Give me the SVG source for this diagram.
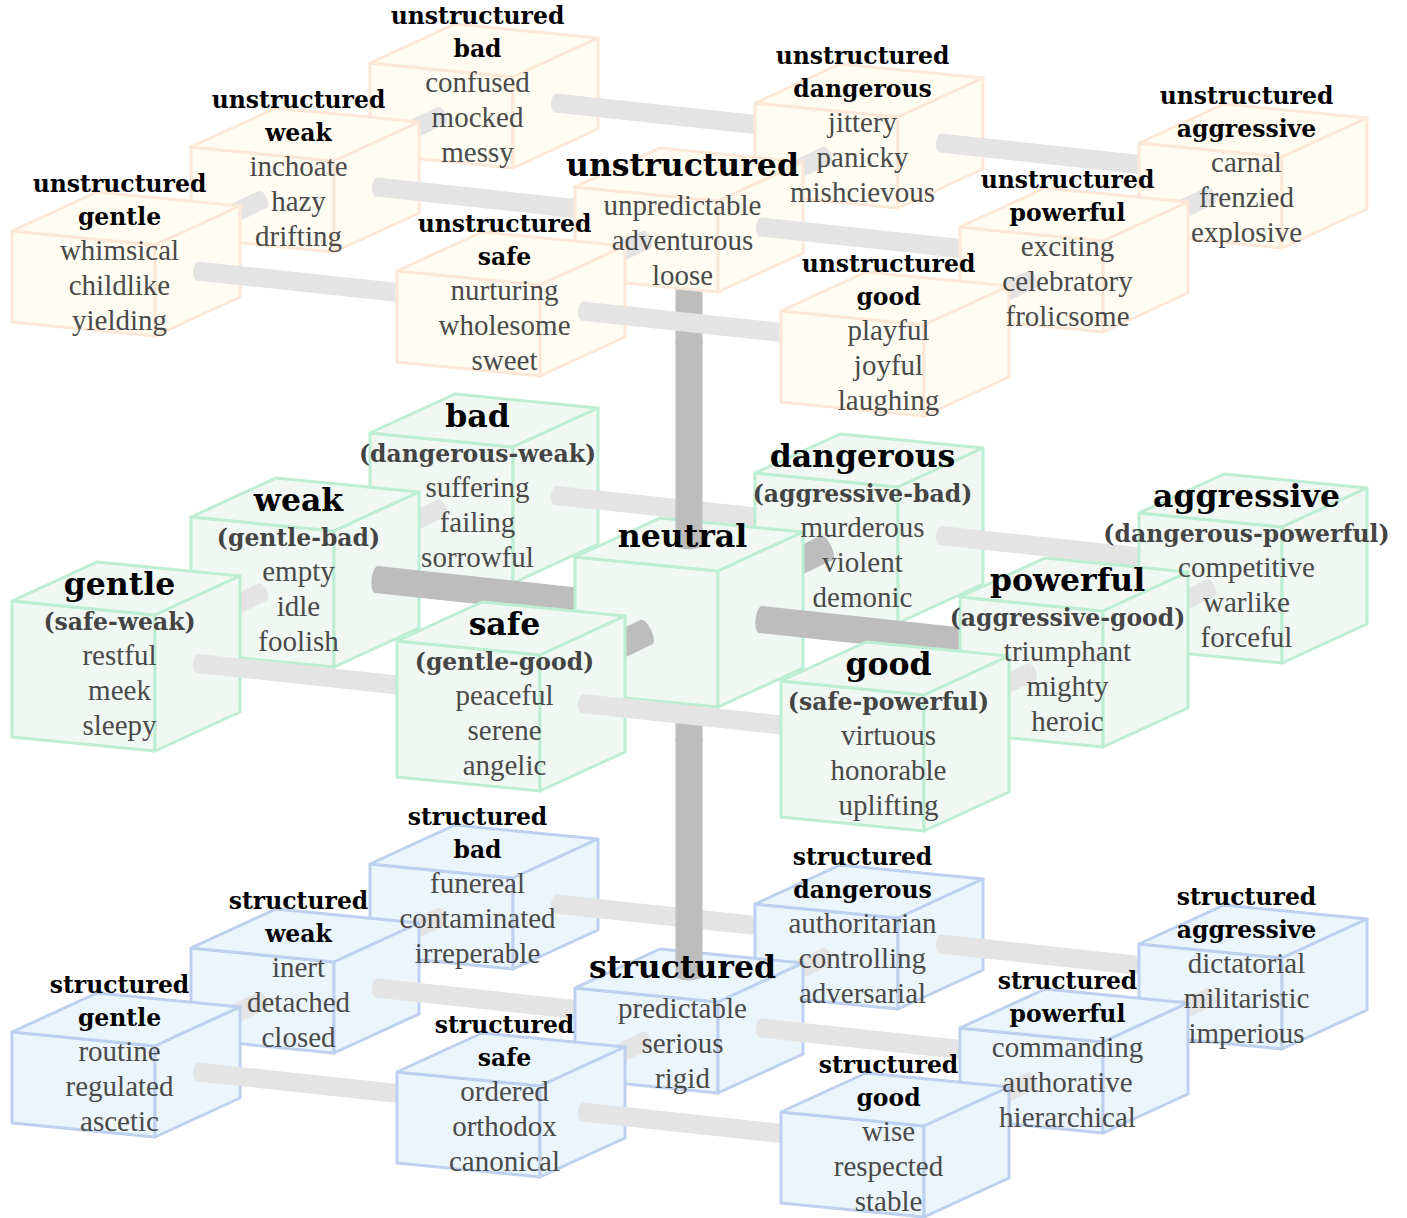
<svg xmlns="http://www.w3.org/2000/svg" width="1407" height="1218" viewBox="0 0 1407 1218">
<style>
.cn{fill:#f1f8f3;stroke:#bdeed3;stroke-width:3;stroke-linejoin:round}
.cu{fill:#fffdf2;stroke:#fde8d8;stroke-width:3;stroke-linejoin:round}
.cs{fill:#ebf6fc;stroke:#bdd0ef;stroke-width:3;stroke-linejoin:round}
.bl{stroke:#e4e4e4;stroke-width:19;fill:none}
.bd{stroke:#bdbdbd;stroke-width:27;fill:none}
.t1{font-family:"DejaVu Serif",serif;font-weight:bold;font-size:31.5px;fill:#000;text-anchor:middle}
.t2{font-family:"DejaVu Serif",serif;font-weight:bold;font-size:23.5px;fill:#000;text-anchor:middle}
.sb{font-family:"DejaVu Serif",serif;font-weight:bold;font-size:23.5px;fill:#444;text-anchor:middle}
.w{font-family:"Liberation Serif",serif;font-size:29px;fill:#4a4a4a;text-anchor:middle}
</style>
<defs>
<g id="cubeS"><path d="M0,0 L143,14 L143,105 L0,91 Z"/><path d="M0,0 L85,-39 L228,-25 L143,14 Z"/><path d="M143,14 L228,-25 L228,66 L143,105 Z"/></g>
<g id="cubeL"><path d="M0,0 L143,14 L143,150 L0,136 Z"/><path d="M0,0 L85,-39 L228,-25 L143,14 Z"/><path d="M143,14 L228,-25 L228,111 L143,150 Z"/></g>
<marker id="mL" markerUnits="userSpaceOnUse" markerWidth="30" markerHeight="30" refX="15" refY="15" orient="auto" overflow="visible"><ellipse cx="15" cy="15" rx="4.5" ry="9.5" fill="#e4e4e4"/></marker>
<marker id="mD" markerUnits="userSpaceOnUse" markerWidth="30" markerHeight="30" refX="15" refY="15" orient="auto" overflow="visible"><ellipse cx="15" cy="15" rx="5" ry="13.5" fill="#bdbdbd"/></marker>
</defs>

<g id="scene">
<!-- ===== UNSTRUCTURED LAYER ===== -->
<g id="u-bad"><use href="#cubeS" class="cu" x="370" y="63"/></g>
<g class="edges"><line class="bl" x1="555.5" y1="103" x2="797.5" y2="129" marker-start="url(#mL)"/></g>
<g id="u-dangerous"><use href="#cubeS" class="cu" x="755" y="103"/></g>
<g class="edges"><line class="bl" x1="940.5" y1="143" x2="1181.5" y2="169" marker-start="url(#mL)"/></g>
<g id="u-aggressive"><use href="#cubeS" class="cu" x="1139" y="143"/></g>
<g class="edges">
<line class="bl" x1="347.5" y1="160.5" x2="441.5" y2="115.5" marker-end="url(#mL)"/>
<line class="bl" x1="731.5" y1="200.5" x2="826.5" y2="155.5" marker-end="url(#mL)"/>
<line class="bl" x1="1116.5" y1="240.5" x2="1210.5" y2="195.5" marker-end="url(#mL)"/>
</g>
<g id="u-weak"><use href="#cubeS" class="cu" x="191" y="147"/></g>
<g class="edges"><line class="bl" x1="376.5" y1="187" x2="617.5" y2="213" marker-start="url(#mL)"/>
<line class="bd" x1="689" y1="280" x2="689" y2="345"/></g>
<g id="u-center"><use href="#cubeS" class="cu" x="575" y="187"/></g>
<g class="edges"><line class="bl" x1="760.5" y1="227" x2="1002.5" y2="253" marker-start="url(#mL)"/></g>
<g id="u-powerful"><use href="#cubeS" class="cu" x="960" y="227"/></g>
<g class="edges">
<line class="bl" x1="168.5" y1="244.5" x2="262.5" y2="199.5" marker-end="url(#mL)"/>
<line class="bl" x1="553.5" y1="284.5" x2="646.5" y2="239.5" marker-end="url(#mL)"/>
<line class="bl" x1="937.5" y1="324.5" x2="1031.5" y2="279.5" marker-end="url(#mL)"/>
</g>
<g id="u-gentle"><use href="#cubeS" class="cu" x="12" y="231"/></g>
<g class="edges"><line class="bl" x1="197.5" y1="271" x2="439.5" y2="297" marker-start="url(#mL)"/></g>
<g id="u-safe"><use href="#cubeS" class="cu" x="397" y="271"/></g>
<g class="edges"><line class="bl" x1="582.5" y1="311" x2="823.5" y2="337" marker-start="url(#mL)"/></g>
<g id="u-good"><use href="#cubeS" class="cu" x="781" y="311"/></g>

<!-- ===== NEUTRAL LAYER ===== -->
<g id="n-bad"><use href="#cubeL" class="cn" x="370" y="433"/></g>
<g class="edges"><line class="bl" x1="555.5" y1="495.5" x2="797.5" y2="521.5" marker-start="url(#mL)"/></g>
<g id="n-dangerous"><use href="#cubeL" class="cn" x="755" y="473"/></g>
<g class="edges"><line class="bl" x1="940.5" y1="535.5" x2="1181.5" y2="561.5" marker-start="url(#mL)"/></g>
<g id="n-aggressive"><use href="#cubeL" class="cn" x="1139" y="513"/></g>
<g class="edges">
<line class="bl" x1="347.5" y1="553" x2="441.5" y2="508" marker-end="url(#mL)"/>
<line class="bd" x1="731.5" y1="593" x2="826.5" y2="548" marker-end="url(#mD)"/>
<line class="bl" x1="1116.5" y1="633" x2="1210.5" y2="588" marker-end="url(#mL)"/>
</g>
<g id="n-weak"><use href="#cubeL" class="cn" x="191" y="517"/></g>
<g class="edges"><line class="bd" x1="376.5" y1="579.5" x2="617.5" y2="605.5" marker-start="url(#mD)"/>
<line class="bd" x1="689" y1="690" x2="689" y2="742"/></g>
<g id="n-center"><use href="#cubeL" class="cn" x="575" y="557"/></g>
<g class="edges"><line class="bd" x1="689" y1="340" x2="689" y2="544.5" marker-end="url(#mD)"/>
<line class="bd" x1="760.5" y1="619.5" x2="1002.5" y2="645.5" marker-start="url(#mD)"/></g>
<g id="n-powerful"><use href="#cubeL" class="cn" x="960" y="597"/></g>
<g class="edges">
<line class="bl" x1="168.5" y1="637" x2="262.5" y2="592" marker-end="url(#mL)"/>
<line class="bd" x1="553.5" y1="677" x2="646.5" y2="632" marker-end="url(#mD)"/>
<line class="bl" x1="937.5" y1="717" x2="1031.5" y2="672" marker-end="url(#mL)"/>
</g>
<g id="n-gentle"><use href="#cubeL" class="cn" x="12" y="601"/></g>
<g class="edges"><line class="bl" x1="197.5" y1="663.5" x2="439.5" y2="689.5" marker-start="url(#mL)"/></g>
<g id="n-safe"><use href="#cubeL" class="cn" x="397" y="641"/></g>
<g class="edges"><line class="bl" x1="582.5" y1="703.5" x2="823.5" y2="729.5" marker-start="url(#mL)"/></g>
<g id="n-good"><use href="#cubeL" class="cn" x="781" y="681"/></g>

<!-- ===== STRUCTURED LAYER ===== -->
<g id="s-bad"><use href="#cubeS" class="cs" x="370" y="864"/></g>
<g class="edges"><line class="bl" x1="555.5" y1="904" x2="797.5" y2="930" marker-start="url(#mL)"/></g>
<g id="s-dangerous"><use href="#cubeS" class="cs" x="755" y="904"/></g>
<g class="edges"><line class="bl" x1="940.5" y1="944" x2="1181.5" y2="970" marker-start="url(#mL)"/></g>
<g id="s-aggressive"><use href="#cubeS" class="cs" x="1139" y="944"/></g>
<g class="edges">
<line class="bl" x1="347.5" y1="961.5" x2="441.5" y2="916.5" marker-end="url(#mL)"/>
<line class="bl" x1="731.5" y1="1001.5" x2="826.5" y2="956.5" marker-end="url(#mL)"/>
<line class="bl" x1="1116.5" y1="1041.5" x2="1210.5" y2="996.5" marker-end="url(#mL)"/>
</g>
<g id="s-weak"><use href="#cubeS" class="cs" x="191" y="948"/></g>
<g class="edges"><line class="bl" x1="376.5" y1="988" x2="617.5" y2="1014" marker-start="url(#mL)"/></g>
<g id="s-center"><use href="#cubeS" class="cs" x="575" y="988"/></g>
<g class="edges"><line class="bd" x1="689" y1="738" x2="689" y2="975.5" marker-end="url(#mD)"/>
<line class="bl" x1="760.5" y1="1028" x2="1002.5" y2="1054" marker-start="url(#mL)"/></g>
<g id="s-powerful"><use href="#cubeS" class="cs" x="960" y="1028"/></g>
<g class="edges">
<line class="bl" x1="168.5" y1="1045.5" x2="262.5" y2="1000.5" marker-end="url(#mL)"/>
<line class="bl" x1="553.5" y1="1085.5" x2="646.5" y2="1040.5" marker-end="url(#mL)"/>
<line class="bl" x1="937.5" y1="1125.5" x2="1031.5" y2="1080.5" marker-end="url(#mL)"/>
</g>
<g id="s-gentle"><use href="#cubeS" class="cs" x="12" y="1032"/></g>
<g class="edges"><line class="bl" x1="197.5" y1="1072" x2="439.5" y2="1098" marker-start="url(#mL)"/></g>
<g id="s-safe"><use href="#cubeS" class="cs" x="397" y="1072"/></g>
<g class="edges"><line class="bl" x1="582.5" y1="1112" x2="823.5" y2="1138" marker-start="url(#mL)"/></g>
<g id="s-good"><use href="#cubeS" class="cs" x="781" y="1112"/></g>
</g>

<g id="labels">
<g id="u-bad-label"><text class="t2" x="477.5" y="24">unstructured</text><text class="t2" x="477.5" y="57">bad</text>
<text class="w" x="477.5" y="92">confused</text><text class="w" x="477.5" y="127">mocked</text><text class="w" x="477.5" y="162">messy</text></g>
<g id="u-dangerous-label"><text class="t2" x="862.5" y="64">unstructured</text><text class="t2" x="862.5" y="97">dangerous</text>
<text class="w" x="862.5" y="132">jittery</text><text class="w" x="862.5" y="167">panicky</text><text class="w" x="862.5" y="202">mishcievous</text></g>
<g id="u-aggressive-label"><text class="t2" x="1246.5" y="104">unstructured</text><text class="t2" x="1246.5" y="137">aggressive</text>
<text class="w" x="1246.5" y="172">carnal</text><text class="w" x="1246.5" y="207">frenzied</text><text class="w" x="1246.5" y="242">explosive</text></g>
<g id="u-weak-label"><text class="t2" x="298.5" y="108">unstructured</text><text class="t2" x="298.5" y="141">weak</text>
<text class="w" x="298.5" y="176">inchoate</text><text class="w" x="298.5" y="211">hazy</text><text class="w" x="298.5" y="246">drifting</text></g>
<g id="u-center-label"><text class="t1" x="682.5" y="176">unstructured</text>
<text class="w" x="682.5" y="215">unpredictable</text><text class="w" x="682.5" y="250">adventurous</text><text class="w" x="682.5" y="285">loose</text></g>
<g id="u-powerful-label"><text class="t2" x="1067.5" y="188">unstructured</text><text class="t2" x="1067.5" y="221">powerful</text>
<text class="w" x="1067.5" y="256">exciting</text><text class="w" x="1067.5" y="291">celebratory</text><text class="w" x="1067.5" y="326">frolicsome</text></g>
<g id="u-gentle-label"><text class="t2" x="119.5" y="192">unstructured</text><text class="t2" x="119.5" y="225">gentle</text>
<text class="w" x="119.5" y="260">whimsical</text><text class="w" x="119.5" y="295">childlike</text><text class="w" x="119.5" y="330">yielding</text></g>
<g id="u-safe-label"><text class="t2" x="504.5" y="232">unstructured</text><text class="t2" x="504.5" y="265">safe</text>
<text class="w" x="504.5" y="300">nurturing</text><text class="w" x="504.5" y="335">wholesome</text><text class="w" x="504.5" y="370">sweet</text></g>
<g id="u-good-label"><text class="t2" x="888.5" y="272">unstructured</text><text class="t2" x="888.5" y="305">good</text>
<text class="w" x="888.5" y="340">playful</text><text class="w" x="888.5" y="375">joyful</text><text class="w" x="888.5" y="410">laughing</text></g>

<g id="n-bad-label"><text class="t1" x="477.5" y="427">bad</text><text class="sb" x="477.5" y="462">(dangerous-weak)</text>
<text class="w" x="477.5" y="497">suffering</text><text class="w" x="477.5" y="532">failing</text><text class="w" x="477.5" y="567">sorrowful</text></g>
<g id="n-dangerous-label"><text class="t1" x="862.5" y="467">dangerous</text><text class="sb" x="862.5" y="502">(aggressive-bad)</text>
<text class="w" x="862.5" y="537">murderous</text><text class="w" x="862.5" y="572">violent</text><text class="w" x="862.5" y="607">demonic</text></g>
<g id="n-aggressive-label"><text class="t1" x="1246.5" y="507">aggressive</text><text class="sb" x="1246.5" y="542">(dangerous-powerful)</text>
<text class="w" x="1246.5" y="577">competitive</text><text class="w" x="1246.5" y="612">warlike</text><text class="w" x="1246.5" y="647">forceful</text></g>
<g id="n-weak-label"><text class="t1" x="298.5" y="511">weak</text><text class="sb" x="298.5" y="546">(gentle-bad)</text>
<text class="w" x="298.5" y="581">empty</text><text class="w" x="298.5" y="616">idle</text><text class="w" x="298.5" y="651">foolish</text></g>
<g id="n-center-label"><text class="t1" x="682.5" y="547">neutral</text></g>
<g id="n-powerful-label"><text class="t1" x="1067.5" y="591">powerful</text><text class="sb" x="1067.5" y="626">(aggressive-good)</text>
<text class="w" x="1067.5" y="661">triumphant</text><text class="w" x="1067.5" y="696">mighty</text><text class="w" x="1067.5" y="731">heroic</text></g>
<g id="n-gentle-label"><text class="t1" x="119.5" y="595">gentle</text><text class="sb" x="119.5" y="630">(safe-weak)</text>
<text class="w" x="119.5" y="665">restful</text><text class="w" x="119.5" y="700">meek</text><text class="w" x="119.5" y="735">sleepy</text></g>
<g id="n-safe-label"><text class="t1" x="504.5" y="635">safe</text><text class="sb" x="504.5" y="670">(gentle-good)</text>
<text class="w" x="504.5" y="705">peaceful</text><text class="w" x="504.5" y="740">serene</text><text class="w" x="504.5" y="775">angelic</text></g>
<g id="n-good-label"><text class="t1" x="888.5" y="675">good</text><text class="sb" x="888.5" y="710">(safe-powerful)</text>
<text class="w" x="888.5" y="745">virtuous</text><text class="w" x="888.5" y="780">honorable</text><text class="w" x="888.5" y="815">uplifting</text></g>

<g id="s-bad-label"><text class="t2" x="477.5" y="825">structured</text><text class="t2" x="477.5" y="858">bad</text>
<text class="w" x="477.5" y="893">funereal</text><text class="w" x="477.5" y="928">contaminated</text><text class="w" x="477.5" y="963">irreperable</text></g>
<g id="s-dangerous-label"><text class="t2" x="862.5" y="865">structured</text><text class="t2" x="862.5" y="898">dangerous</text>
<text class="w" x="862.5" y="933">authoritarian</text><text class="w" x="862.5" y="968">controlling</text><text class="w" x="862.5" y="1003">adversarial</text></g>
<g id="s-aggressive-label"><text class="t2" x="1246.5" y="905">structured</text><text class="t2" x="1246.5" y="938">aggressive</text>
<text class="w" x="1246.5" y="973">dictatorial</text><text class="w" x="1246.5" y="1008">militaristic</text><text class="w" x="1246.5" y="1043">imperious</text></g>
<g id="s-weak-label"><text class="t2" x="298.5" y="909">structured</text><text class="t2" x="298.5" y="942">weak</text>
<text class="w" x="298.5" y="977">inert</text><text class="w" x="298.5" y="1012">detached</text><text class="w" x="298.5" y="1047">closed</text></g>
<g id="s-center-label"><text class="t1" x="682.5" y="978">structured</text>
<text class="w" x="682.5" y="1018">predictable</text><text class="w" x="682.5" y="1053">serious</text><text class="w" x="682.5" y="1088">rigid</text></g>
<g id="s-powerful-label"><text class="t2" x="1067.5" y="989">structured</text><text class="t2" x="1067.5" y="1022">powerful</text>
<text class="w" x="1067.5" y="1057">commanding</text><text class="w" x="1067.5" y="1092">authorative</text><text class="w" x="1067.5" y="1127">hierarchical</text></g>
<g id="s-gentle-label"><text class="t2" x="119.5" y="993">structured</text><text class="t2" x="119.5" y="1026">gentle</text>
<text class="w" x="119.5" y="1061">routine</text><text class="w" x="119.5" y="1096">regulated</text><text class="w" x="119.5" y="1131">ascetic</text></g>
<g id="s-safe-label"><text class="t2" x="504.5" y="1033">structured</text><text class="t2" x="504.5" y="1066">safe</text>
<text class="w" x="504.5" y="1101">ordered</text><text class="w" x="504.5" y="1136">orthodox</text><text class="w" x="504.5" y="1171">canonical</text></g>
<g id="s-good-label"><text class="t2" x="888.5" y="1073">structured</text><text class="t2" x="888.5" y="1106">good</text>
<text class="w" x="888.5" y="1141">wise</text><text class="w" x="888.5" y="1176">respected</text><text class="w" x="888.5" y="1211">stable</text></g>
</g>
</svg>
